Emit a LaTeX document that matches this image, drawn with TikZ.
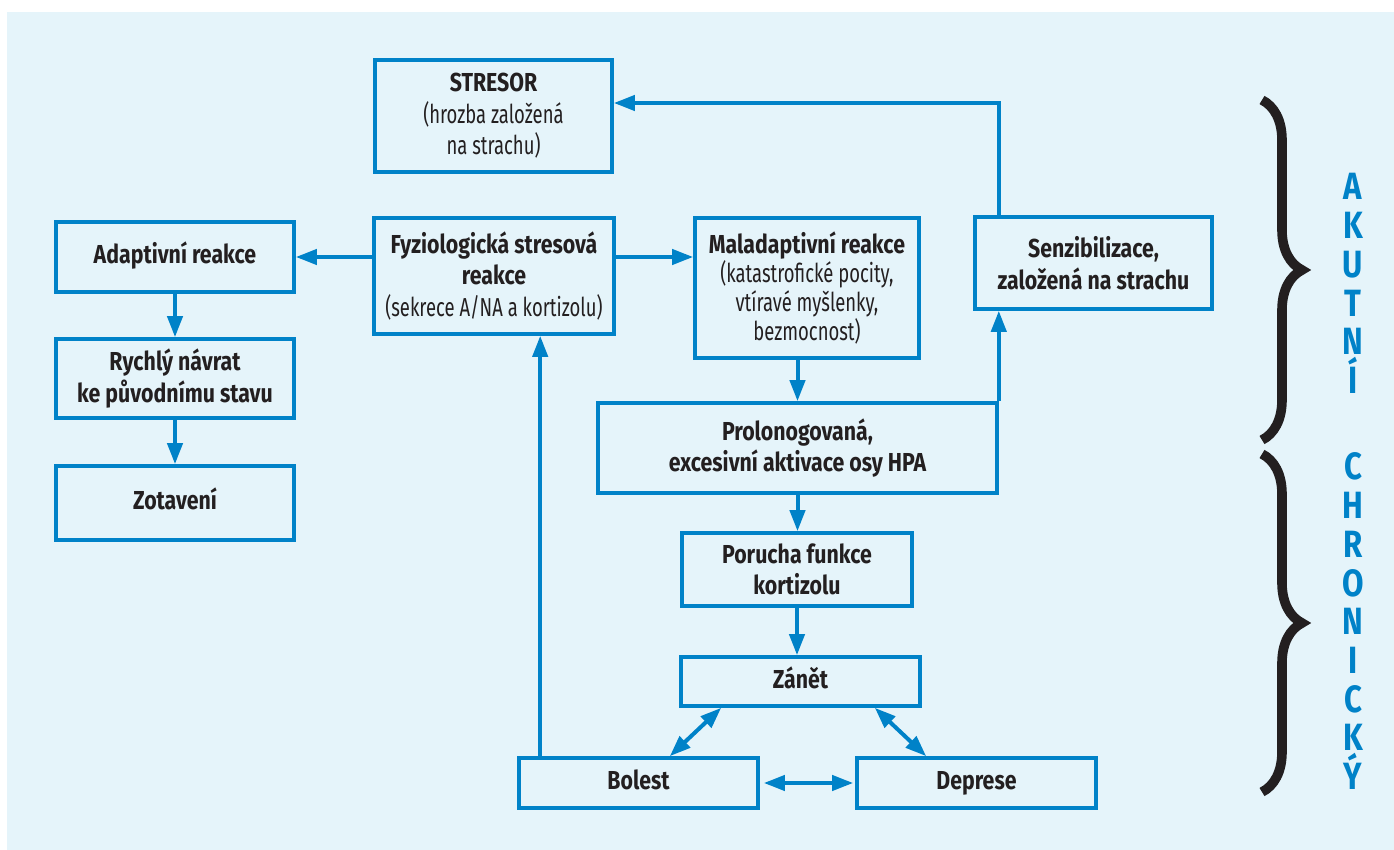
\documentclass[tikz,border=0pt]{standalone}
\usepackage{fontspec}
\setmainfont{Fira Sans}[FakeStretch=0.82]
\newfontfamily\narrowreg{Fira Sans}[FakeStretch=0.71]
\newcommand\regline{\narrowreg\mdseries}
\usetikzlibrary{arrows.meta,decorations.pathreplacing}
\definecolor{bgblue}{HTML}{E5F4FA}
\definecolor{lineblue}{HTML}{0082C8}
\definecolor{ink}{HTML}{231F20}
\tikzset{
  box/.style={draw=lineblue, line width=1.8pt, align=center, inner sep=2pt,
    text=ink, font=\fontsize{13}{15.8}\selectfont\bfseries},
  oneline/.style={text height=1.55ex, text depth=.3ex},
  conn/.style={draw=lineblue, line width=2pt},
  sidelabel/.style={text=lineblue, anchor=base, font=\fontsize{19}{20}\selectfont\bfseries},
  bracket/.style={draw=ink, line width=4.8pt, decorate, decoration={brace, amplitude=20pt}}
}
\begin{document}
\begin{tikzpicture}[x=0.5pt, y=-0.5pt, >={Triangle[length=10.5pt,width=7.5pt]}]
\useasboundingbox (0,0) rectangle (1394,850);
\fill[white] (0,0) rectangle (1394,850);
\fill[bgblue] (7,12) rectangle (1394,850);

% boxes
\node[box, minimum width=118.5pt, minimum height=56pt] (stresor) at (493.5,116)
  {STRESOR\\\regline (hrozba založená\\\regline na strachu)};
\node[box, oneline, minimum width=119pt, minimum height=35pt] (adapt) at (175,257) {Adaptivní reakce};
\node[box, minimum width=120pt, minimum height=58pt] (fyz) at (494,276)
  {Fyziologická stresová\\reakce\\\regline (sekrece A/NA a kortizolu)};
\node[box, minimum width=112pt, minimum height=70pt, font=\fontsize{13}{14.6}\selectfont\bfseries] (mal) at (807,288)
  {Maladaptivní reakce\\\regline (katastrofické pocity,\\\regline vtíravé myšlenky,\\\regline bezmocnost)};
\node[box, minimum width=118.5pt, minimum height=46pt] (senzib) at (1093.5,263)
  {Senzibilizace,\\založená na strachu};
\node[box, minimum width=119pt, minimum height=39.5pt] (rychly) at (175,378.5)
  {Rychlý návrat\\ke původnímu stavu};
\node[box, oneline, minimum width=119pt, minimum height=37pt] (zotav) at (175,503) {Zotavení};
\node[box, minimum width=199.5pt, minimum height=45pt] (prolong) at (797.5,448)
  {Prolonogovaná,\\excesivní aktivace osy HPA};
\node[box, minimum width=115pt, minimum height=36.5pt] (porucha) at (797,569.5)
  {Porucha funkce\\kortizolu};
\node[box, oneline, minimum width=119.5pt, minimum height=24.5pt] (zanet) at (800.5,681.5) {Zánět};
\node[box, oneline, minimum width=119.5pt, minimum height=25pt] (bolest) at (638.5,783) {Bolest};
\node[box, oneline, minimum width=119.5pt, minimum height=25pt] (deprese) at (976.5,783) {Deprese};

% connectors
\coordinate (stin) at ([yshift=6.5pt]stresor.east);
\coordinate (bup) at ([xshift=11.5pt]bolest.north west);
\draw[conn,->] (fyz.west |- adapt.east) -- (adapt.east);
\draw[conn,->] (fyz.east |- adapt.east) -- (mal.west |- adapt.east);
\draw[conn,->] (adapt) -- (rychly);
\draw[conn,->] (rychly) -- (zotav);
\draw[conn,->] (mal.south -| prolong.north) -- (prolong.north);
\draw[conn,->] (prolong.north east) -- (prolong.north east |- senzib.south);
\draw[conn,->] (prolong.north east |- senzib.north) -- (prolong.north east |- stin) -- (stin);
\draw[conn,->] (prolong.south) -- (prolong.south |- porucha.north);
\draw[conn,->] (porucha.south) -- (porucha.south |- zanet.north);
\draw[conn,->] (bup) -- (bup |- fyz.south);
\draw[conn,<->] ([xshift=21pt]zanet.south west) -- ([xshift=-45pt]bolest.north east);
\draw[conn,<->] ([xshift=-23.5pt]zanet.south east) -- ([xshift=35.5pt]deprese.north west);
\draw[conn,<->,shorten <=2pt,shorten >=1pt] (bolest.east) -- (deprese.west);

% braces and side labels
\draw[bracket] (1262,100) -- (1262,440);
\draw[bracket] (1262,454) -- (1262,792);
\foreach \ch [count=\i] in {A,K,U,T,N,Í}
  \node[sidelabel] (ak\i) at (1353,{200+38.7*(\i-1)}) {\ch};
\foreach \ch [count=\i] in {C,H,R,O,N,I,C,K,Ý}
  \node[sidelabel] (ch\i) at (1353,{480+38.7*(\i-1)}) {\ch};
\end{tikzpicture}
\end{document}
